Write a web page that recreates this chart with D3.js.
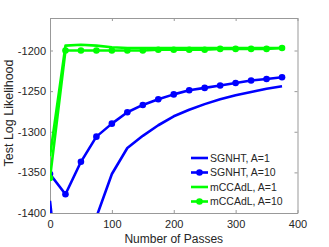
<!DOCTYPE html>
<html>
<head>
<meta charset="UTF-8">
<script src="https://cdn.jsdelivr.net/npm/d3@7"></script>
<style>
  body{margin:0;background:#fff;}
  text{font-family:"Liberation Sans",Arial,sans-serif;fill:#262626;}
</style>
</head>
<body>
<div id="root"></div>
<script>
  // passes
  let passes = [0,25,50,75,100,125,150,175,200,225,250,275,300,325,350,375]

  let sgnhtA1   = [-1385,-1560,-1470,-1405,-1352,-1320,-1305,-1292,-1281,-1273,-1266,-1260,-1255,-1251,-1247,-1244]
  let sgnhtA10  = [-1352,-1377,-1337,-1306,-1290,-1276,-1267,-1260,-1254,-1249,-1246,-1243,-1240,-1237,-1235,-1233]
  let mccadlA1  = [-1330,-1194,-1193,-1194,-1196,-1197,-1197,-1197,-1197,-1197,-1197,-1197,-1197,-1197,-1197,-1197]
  let mccadlA10 = [-1357,-1200,-1200,-1200,-1200,-1200,-1200,-1199,-1199,-1199,-1199,-1198,-1198,-1198,-1198,-1197]

  let xTicks = [0,100,200,300,400]
  let yTicks = [-1400,-1350,-1300,-1250,-1200]

  let series = [
    {name:"SGNHT, A=1",   vals:sgnhtA1,   color:"#0000ff", marker:false},
    {name:"SGNHT, A=10",  vals:sgnhtA10,  color:"#0000ff", marker:true},
    {name:"mCCAdL, A=1",  vals:mccadlA1,  color:"#00ff00", marker:false},
    {name:"mCCAdL, A=10", vals:mccadlA10, color:"#00ff00", marker:true}
  ]

  let width = 329, height = 247
  let mLeft = 50, mRight = 297.5, mTop = 18, mBottom = 213

  let svg = d3.select("#root").append("svg").attr("width",width).attr("height",height)

  let x = d3.scaleLinear().domain([0,400]).range([mLeft,mRight])
  let y = d3.scaleLinear().domain([-1400,-1160]).range([mBottom,mTop])

  svg.append("defs").append("clipPath").attr("id","clip")
    .append("rect").attr("x",mLeft).attr("y",mTop).attr("width",mRight-mLeft).attr("height",mBottom-mTop)

  // axes (box on, ticks inward)
  let axisColor = "#999"
  let plain = d=>String(d)
  svg.append("g").attr("transform","translate(0,"+mBottom+")")
    .call(d3.axisBottom(x).tickValues(xTicks).tickFormat(plain).tickSizeInner(-3).tickSizeOuter(0).tickPadding(7))
  svg.append("g").attr("transform","translate(0,"+mTop+")")
    .call(d3.axisTop(x).tickValues(xTicks).tickSizeInner(-3).tickSizeOuter(0).tickFormat(""))
  svg.append("g").attr("transform","translate("+mLeft+",0)")
    .call(d3.axisLeft(y).tickValues(yTicks).tickFormat(plain).tickSizeInner(-3).tickSizeOuter(0).tickPadding(4))
  svg.append("g").attr("transform","translate("+mRight+",0)")
    .call(d3.axisRight(y).tickValues(yTicks).tickSizeInner(-3).tickSizeOuter(0).tickFormat(""))

  svg.selectAll(".domain").attr("stroke",axisColor)
  svg.selectAll(".tick line").attr("stroke",axisColor)
  svg.selectAll(".tick text").style("font-size","11px").attr("fill","#262626")

  let line = d3.line().x((d,i)=>x(passes[i])).y(d=>y(d))
  let plot = svg.append("g").attr("clip-path","url(#clip)")

  series.forEach(s=>{
    plot.append("path").datum(s.vals)
      .attr("d",line).attr("fill","none")
      .attr("stroke",s.color).attr("stroke-width",2.6).attr("stroke-linejoin","round")
    if(s.marker){
      plot.selectAll(null).data(s.vals).enter().append("circle")
        .attr("cx",(d,i)=>x(passes[i])).attr("cy",d=>y(d)).attr("r",3.3)
        .attr("fill",s.color)
    }
  })

  // labels
  svg.append("text").attr("x",(mLeft+mRight)/2).attr("y",243)
    .attr("text-anchor","middle").style("font-size","12px").text("Number of Passes")
  svg.append("text").attr("transform","translate(13,"+113+") rotate(-90)")
    .attr("text-anchor","middle").style("font-size","12.5px").text("Test Log Likelihood")

  // legend
  let leg = svg.append("g").attr("transform","translate(191,158)")
  series.forEach((s,i)=>{
    let g = leg.append("g").attr("transform","translate(0,"+(i*14.5)+")")
    g.append("line").attr("x1",0).attr("x2",17).attr("y1",0).attr("y2",0)
      .attr("stroke",s.color).attr("stroke-width",2.6)
    if(s.marker) g.append("circle").attr("cx",8.5).attr("cy",0).attr("r",3.3).attr("fill",s.color)
    g.append("text").attr("x",19).attr("y",0).attr("dy","0.35em")
      .style("font-size","10.5px").attr("fill","#000").text(s.name)
  })
</script>
</body>
</html>
